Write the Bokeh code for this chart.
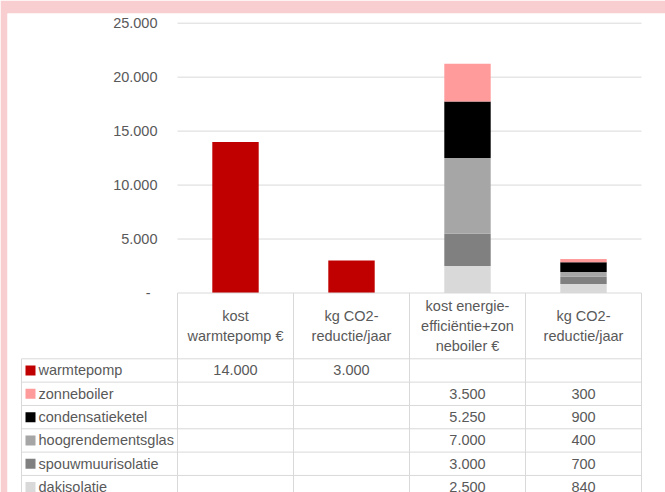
from bokeh.plotting import figure
from bokeh.models import Range1d, ColumnDataSource
from bokeh.core.properties import value
from bokeh.embed import file_html
from bokeh.resources import INLINE

# --- data -------------------------------------------------------------
categories = [
    "kost\nwarmtepomp €",
    "kg CO2-\nreductie/jaar",
    "kost energie-\nefficiëntie+zon\nneboiler €",
    "kg CO2-\nreductie/jaar",
]
series_names = ["warmtepomp", "zonneboiler", "condensatieketel",
                "hoogrendementsglas", "spouwmuurisolatie", "dakisolatie"]
warmtepomp = [14000, 3000, None, None]
zonneboiler = [None, None, 3500, 300]
condensatieketel = [None, None, 5250, 900]
hoogrendementsglas = [None, None, 7000, 400]
spouwmuurisolatie = [None, None, 3000, 700]
dakisolatie = [None, None, 2500, 840]
series_colors = ["#C00000", "#FF9B9B", "#000000", "#A6A6A6", "#808080", "#D9D9D9"]
y_ticks = [0, 5000, 10000, 15000, 20000, 25000]

series_values = [warmtepomp, zonneboiler, condensatieketel,
                 hoogrendementsglas, spouwmuurisolatie, dakisolatie]


def fmt(v):
    if v is None:
        return ""
    if v == 0:
        return "-"
    return f"{v:,}".replace(",", ".")


# --- styling / layout -------------------------------------------------
PINK = "#F9CED0"
GRID = "#D9D9D9"
TEXT = "#595959"
FONT = value("Liberation Sans")
FSIZE = value("14.5px")

W, H = 665, 492
LEFT_PAD, TOP_PAD = 7, 13
CAT_PX = 116.0                      # width of one category column in px
GRID_LEFT_PX = 177.0                # screen x of category 0 edge
ZERO_PX, TOP_TICK_PX = 292.5, 22.7  # screen y of 0 and of 25.000

x_start = (LEFT_PAD - GRID_LEFT_PX) / CAT_PX
x_end = (W - GRID_LEFT_PX) / CAT_PX
k = (ZERO_PX - TOP_TICK_PX) / y_ticks[-1]
y_start = -(H - ZERO_PX) / k
y_end = y_ticks[-1] + (TOP_TICK_PX - TOP_PAD) / k

p = figure(width=W, height=H, output_backend="svg", toolbar_location=None,
           x_range=Range1d(x_start, x_end), y_range=Range1d(y_start, y_end),
           x_axis_location=None, y_axis_location=None,
           min_border_left=LEFT_PAD, min_border_top=TOP_PAD,
           min_border_right=0, min_border_bottom=0)
p.extra_y_ranges = {"px": Range1d(start=H, end=TOP_PAD)}
p.border_fill_color = PINK
p.background_fill_color = "white"
p.outline_line_color = None
p.grid.visible = False

n_cat = len(categories)
centers = [i + 0.5 for i in range(n_cat)]

# horizontal gridlines
grid_vals = [t for t in y_ticks if t > 0]
p.segment(x0=[0] * len(grid_vals), x1=[n_cat] * len(grid_vals),
          y0=grid_vals, y1=grid_vals, line_color=GRID, line_width=1)

# y tick labels
tick_src = ColumnDataSource(dict(
    x=[0] * len(y_ticks), y=y_ticks, text=[fmt(t) for t in y_ticks],
    xo=[-27 if t == 0 else -20 for t in y_ticks]))
p.text(x="x", y="y", text="text", x_offset="xo", source=tick_src,
       text_align="right", text_baseline="middle", text_color=TEXT,
       text_font=FONT, text_font_size=FSIZE)

# stacked bars (bottom to top: dakisolatie ... warmtepomp)
bar_data = {"x": centers}
for name, vals in zip(series_names, series_values):
    bar_data[name] = [v if v is not None else 0 for v in vals]
stack_order = list(reversed(series_names))
stack_colors = list(reversed(series_colors))
p.vbar_stack(stack_order, x="x", width=0.4, fill_color=stack_colors,
             line_color=None, source=ColumnDataSource(bar_data))

# --- data table -------------------------------------------------------
TABLE_LEFT = (21 - GRID_LEFT_PX) / CAT_PX
ROW0_PX, ROW_H = 358.3, 23.33
LINE_PX = 19.7
n_rows = len(series_names)

# zero line / header top
p.segment(x0=[0], x1=[n_cat], y0=[0], y1=[0], line_color=GRID, line_width=1)
# column separators
col_x = list(range(n_cat + 1))
p.segment(x0=col_x, x1=col_x, y0=[ZERO_PX] * len(col_x), y1=[H + 5] * len(col_x),
          line_color=GRID, line_width=1, y_range_name="px")
p.segment(x0=[TABLE_LEFT], x1=[TABLE_LEFT], y0=[ROW0_PX], y1=[H + 5],
          line_color=GRID, line_width=1, y_range_name="px")
row_y = [ROW0_PX + r * ROW_H for r in range(n_rows)]
p.segment(x0=[TABLE_LEFT] * n_rows, x1=[n_cat] * n_rows, y0=row_y, y1=row_y,
          line_color=GRID, line_width=1, y_range_name="px")

# header texts, one line at a time, centred in the header row
hx, hy, ht = [], [], []
head_mid = (ZERO_PX + ROW0_PX) / 2
for c, label in enumerate(categories):
    lines = label.split("\n")
    for j, line in enumerate(lines):
        hx.append(centers[c])
        hy.append(head_mid + (j - (len(lines) - 1) / 2) * LINE_PX)
        ht.append(line)
p.text(x=hx, y=hy, text=ht, y_range_name="px", text_align="center",
       text_baseline="middle", text_color=TEXT, text_font=FONT,
       text_font_size=FSIZE)

# legend keys and row names
row_centers = [ROW0_PX + (r + 0.5) * ROW_H for r in range(n_rows)]
key_x = TABLE_LEFT + 9 / CAT_PX
p.scatter(x=[key_x] * n_rows, y=row_centers, marker="square", size=10,
          fill_color=series_colors, line_color=None, y_range_name="px")
p.text(x=[key_x] * n_rows, y=row_centers, text=series_names, x_offset=8,
       y_range_name="px", text_align="left", text_baseline="middle",
       text_color=TEXT, text_font=FONT, text_font_size=FSIZE)

# cell values
cx, cy, ct = [], [], []
for r, vals in enumerate(series_values):
    for c, v in enumerate(vals):
        if v is not None:
            cx.append(centers[c])
            cy.append(row_centers[r])
            ct.append(fmt(v))
p.text(x=cx, y=cy, text=ct, y_range_name="px", text_align="center",
       text_baseline="middle", text_color=TEXT, text_font=FONT,
       text_font_size=FSIZE)

html = file_html(p, INLINE)
html = html.replace("<body>", f'<body style="margin:0;background:{PINK}">', 1)
open("out.html", "w").write(html)
